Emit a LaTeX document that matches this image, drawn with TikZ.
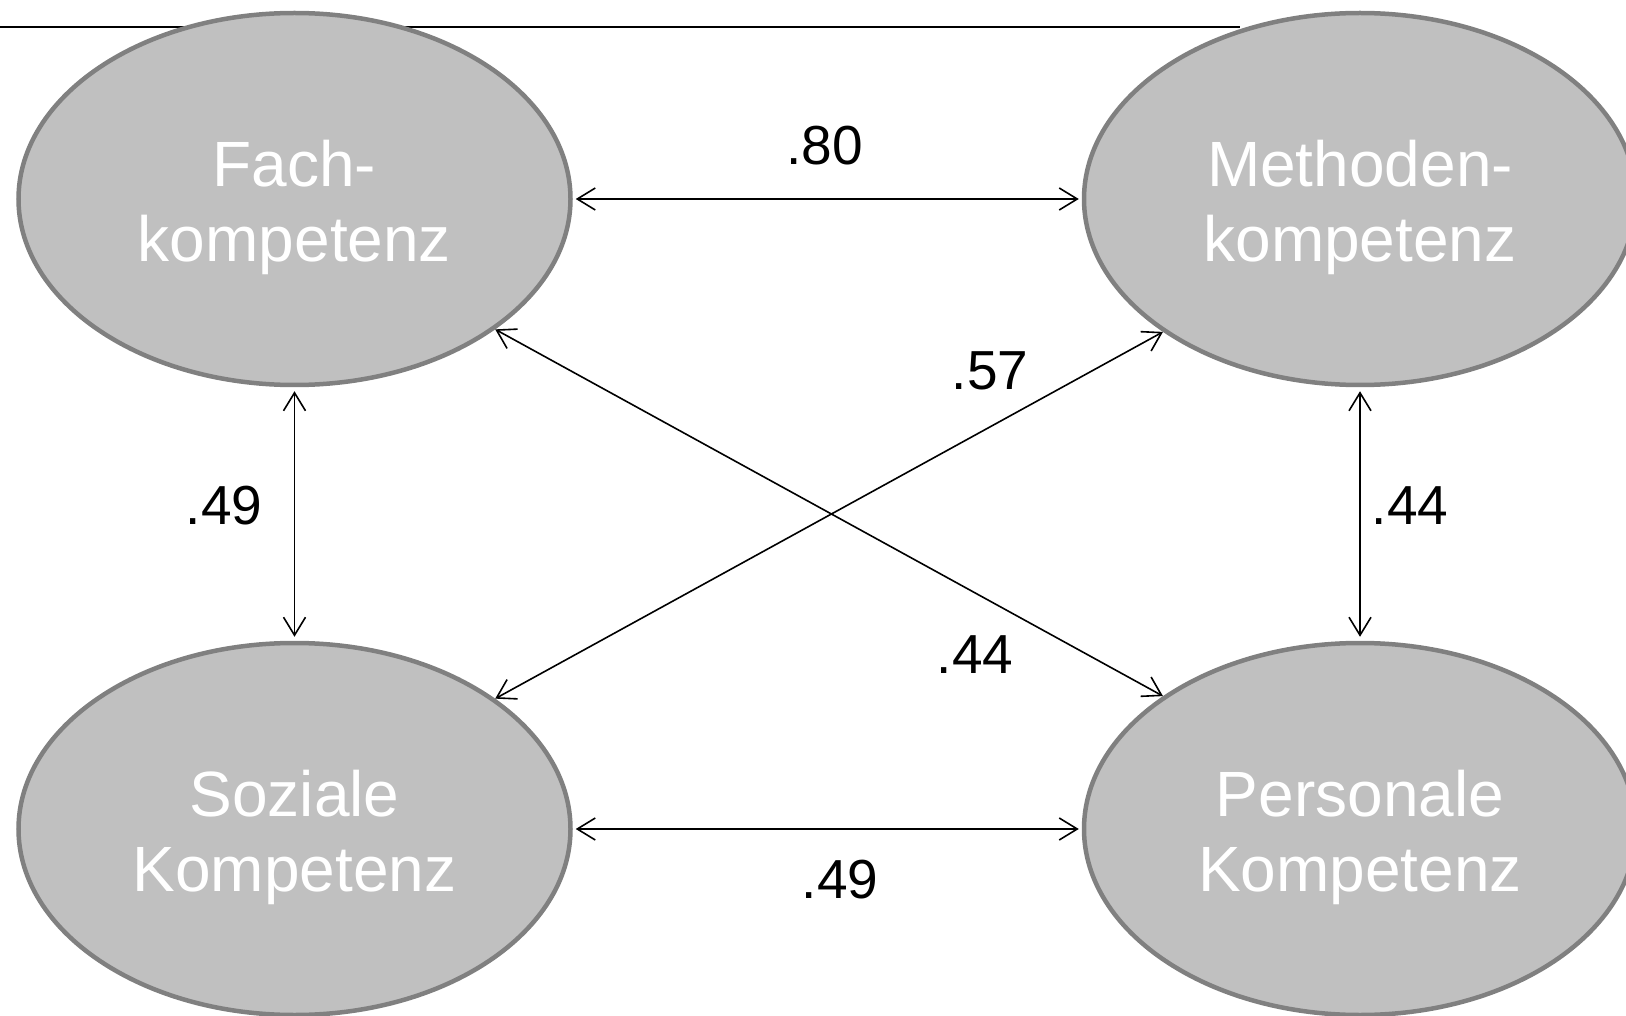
\documentclass[tikz,border=0pt]{standalone}
\usepackage{fontspec}
\setmainfont{Liberation Sans}
\usetikzlibrary{shapes.geometric,arrows.meta}
\definecolor{compfill}{HTML}{C0C0C0}
\definecolor{compedge}{HTML}{808080}
\tikzset{
  comp/.style={ellipse, draw=compedge, fill=compfill, line width=4.5pt,
    minimum width=552pt, minimum height=372pt, inner sep=0pt},
  comptext/.style={text=white, align=center, inner sep=0pt,
    font=\fontsize{64}{75}\selectfont},
  corr/.style={line width=1.6pt, {Straight Barb[length=18pt,width=22pt]}-{Straight Barb[length=18pt,width=22pt]}},
  coef/.style={inner sep=0pt, font=\fontsize{55}{60}\selectfont}
}
\begin{document}
\begin{tikzpicture}[x=1pt,y=-1pt]
  \useasboundingbox (0,0) rectangle (1626,1016);
  \clip (0,0) rectangle (1626,1016);
  % rule behind the upper ellipses
  \coordinate (ruleL) at (0,27);
  \coordinate (ruleR) at (1240,27);
  \draw[line width=2pt] (ruleL) -- (ruleR);
  % the four competence areas
  \node[comp] (fk) at (294.5,199) {};
  \node[comp] (mk) at (1360,199) {};
  \node[comp] (sk) at (294.5,829) {};
  \node[comp] (pk) at (1360,829) {};
  \node[comptext] (fkt) at ([yshift=-8pt]fk.center) {Fach-\\kompetenz};
  \node[comptext] (mkt) at ([yshift=-8pt]mk.center) {Methoden-\\kompetenz};
  \node[comptext] (skt) at ([yshift=-8pt]sk.center) {Soziale\\Kompetenz};
  \node[comptext] (pkt) at ([yshift=-8pt]pk.center) {Personale\\Kompetenz};
  % correlations
  \draw[corr, shorten <=3pt, shorten >=3pt] (fk.east) -- (mk.west);
  \draw[corr, shorten <=3pt, shorten >=3pt] (sk.east) -- (pk.west);
  \draw[corr, shorten <=4pt, shorten >=4pt] (fk.south) -- (sk.north);
  \draw[corr, shorten <=4pt, shorten >=4pt] (mk.south) -- (pk.north);
  \draw[corr] (fk.-33.7) -- (pk.146.6);
  \draw[corr] (mk.-146.2) -- (sk.33.3);
  % coefficients
  \node[coef] (c1) at (824.5,146) {.80};
  \node[coef] (c2) at (990,371) {.57};
  \node[coef] (c3) at (224,505.5) {.49};
  \node[coef] (c4) at (1410,506) {.44};
  \node[coef] (c5) at (975,655) {.44};
  \node[coef] (c6) at (840,880) {.49};
\end{tikzpicture}
\end{document}
